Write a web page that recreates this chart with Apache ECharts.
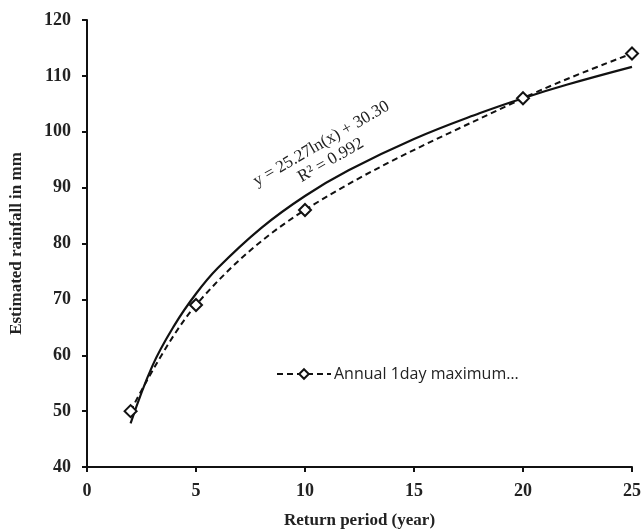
<!DOCTYPE html>
<html>
<head>
<meta charset="utf-8">
<script src="https://cdn.jsdelivr.net/npm/echarts@6/dist/echarts.min.js"></script>
<style>
html,body{margin:0;padding:0;background:#fff;}
#chart{width:641px;height:532px;}
</style>
</head>
<body>
<div id="chart"></div>
<script>
// observed maxima
var returnPeriod = [2, 5, 10, 20, 25];
var rainfall = [50, 69, 86, 106, 114];

// log trendline
var trendX = [2, 3, 4, 5, 6, 8, 10, 12, 15, 18, 20, 22, 25];
var trendY = [47.8, 58.1, 65.3, 71.0, 75.6, 82.8, 88.5, 93.1, 98.7, 103.3, 106.0, 108.4, 111.6];

var xTicks = [0, 5, 10, 15, 20, 25];
var yTicks = [40, 50, 60, 70, 80, 90, 100, 110, 120];

var seriesName = 'Annual 1day maximum\u2026';
var eqText = 'y = 25.27ln(x) + 30.30\nR\u00b2 = 0.992';

var serif = '"Liberation Serif", "Times New Roman", serif';

function pairs(xs, ys) {
    var out = [];
    for (var i = 0; i < xs.length; i++) out.push([xs[i], ys[i]]);
    return out;
}

var myChart = echarts.init(document.getElementById('chart'));

var option = {
    animation: false,
    backgroundColor: '#fff',
    grid: {left: 87, right: 9, top: 20, bottom: 65, containLabel: false, outerBoundsMode: 'none'},
    xAxis: {
        type: 'value', min: xTicks[0], max: xTicks[xTicks.length - 1], interval: 5,
        name: 'Return period (year)', nameLocation: 'middle', nameGap: 45,
        nameTextStyle: {fontFamily: serif, fontWeight: 'bold', fontSize: 17, color: '#222'},
        axisLine: {lineStyle: {color: '#111', width: 2}},
        axisTick: {show: true, length: 5, lineStyle: {color: '#111', width: 2}},
        axisLabel: {fontFamily: serif, fontWeight: 'bold', fontSize: 18, color: '#222', margin: 15},
        splitLine: {show: false}
    },
    yAxis: {
        type: 'value', min: yTicks[0], max: yTicks[yTicks.length - 1], interval: 10,
        name: 'Estimated rainfall in mm', nameLocation: 'middle', nameGap: 62,
        nameTextStyle: {fontFamily: serif, fontWeight: 'bold', fontSize: 17, color: '#222'},
        axisLine: {show: true, lineStyle: {color: '#111', width: 2}},
        axisTick: {show: true, length: 5, lineStyle: {color: '#111', width: 2}},
        axisLabel: {fontFamily: serif, fontWeight: 'bold', fontSize: 18, color: '#222', margin: 16},
        splitLine: {show: false}
    },
    legend: {
        left: 271, top: 361,
        itemWidth: 54, itemHeight: 12, itemGap: 4,
        textStyle: {fontFamily: '"Open Sans", "Noto Sans", sans-serif', fontSize: 16, color: '#222', padding: [0, 0, 0, -2]},
        data: [seriesName]
    },
    graphic: [{
        type: 'text',
        x: 326, y: 152,
        rotation: 30 * Math.PI / 180,
        style: {
            text: eqText,
            fontFamily: serif, fontSize: 17, fill: '#222',
            align: 'center', verticalAlign: 'middle', lineHeight: 19
        }
    }],
    series: [
        {
            name: 'trend', type: 'line', data: pairs(trendX, trendY),
            smooth: 0.4, showSymbol: false, symbol: 'none',
            lineStyle: {color: '#111', width: 2.2}, z: 2
        },
        {
            name: seriesName, type: 'line', data: pairs(returnPeriod, rainfall),
            smooth: 0.35, symbol: 'diamond', symbolSize: 12,
            lineStyle: {color: '#111', width: 2, type: [6, 4]},
            itemStyle: {color: '#fff', borderColor: '#111', borderWidth: 2}, z: 3
        }
    ]
};

myChart.setOption(option);
</script>
</body>
</html>
